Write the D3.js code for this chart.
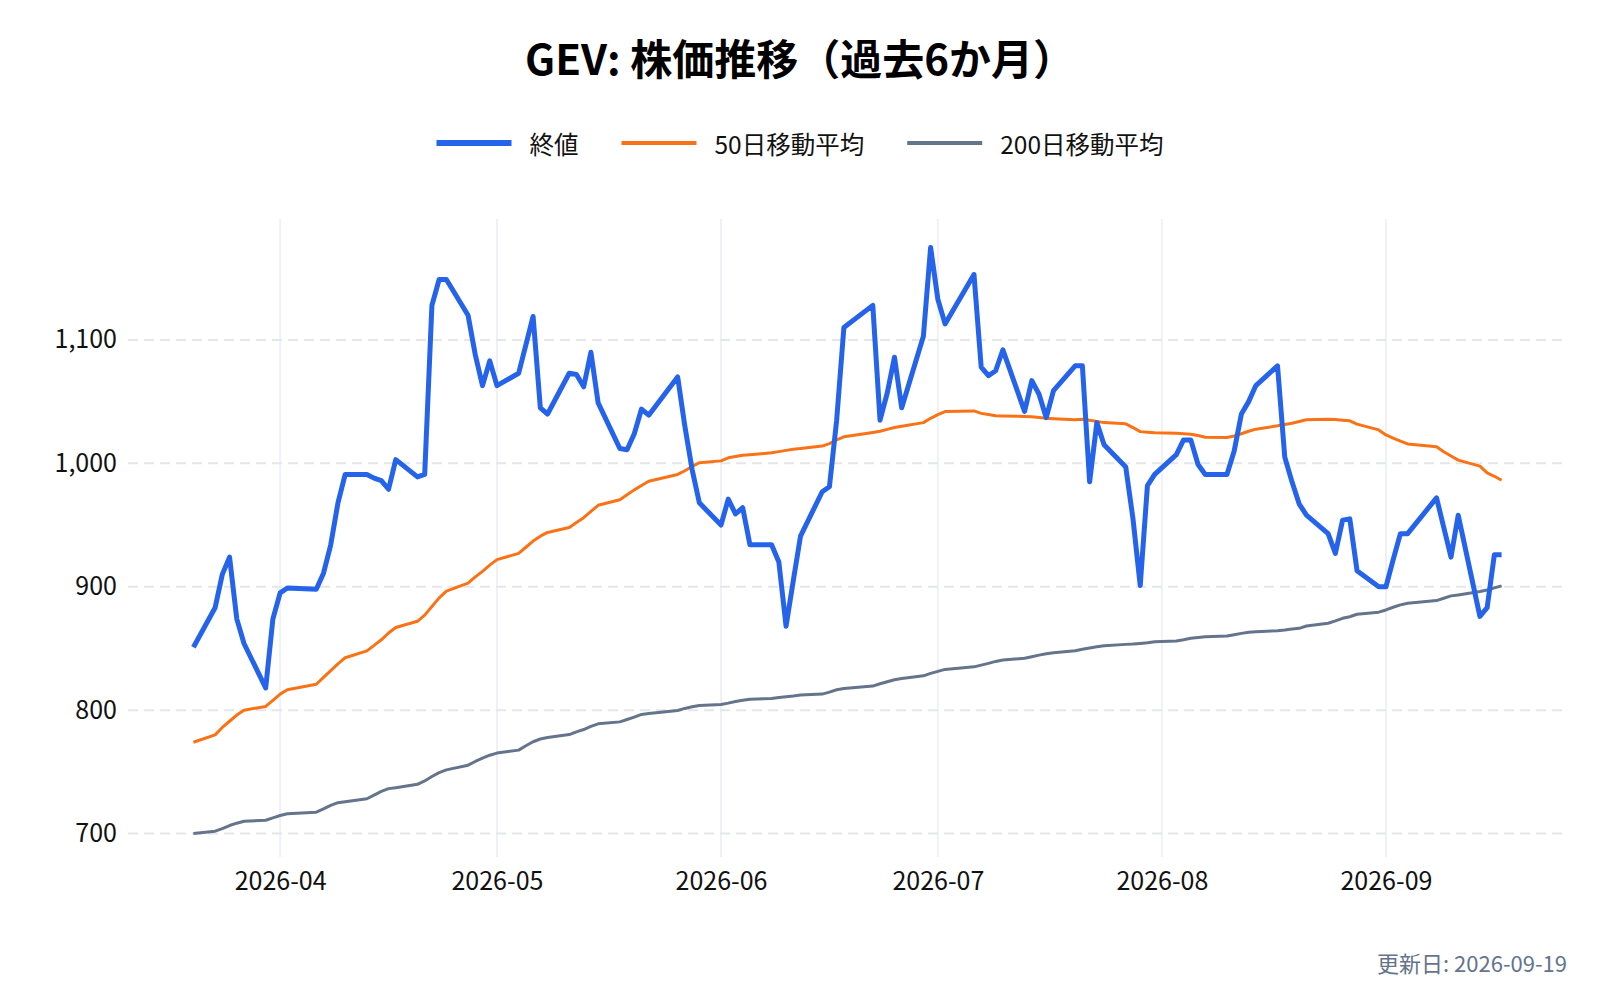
<!DOCTYPE html>
<html lang="ja">
<head>
<meta charset="utf-8">
<title>GEV: 株価推移</title>
<script src="https://cdn.jsdelivr.net/npm/d3@7"></script>
<style>
    body { margin: 0; background: #ffffff; }
    #chart { width: 1600px; height: 1000px; }
    text { font-family: "Noto Sans CJK JP", "Noto Sans", sans-serif; }
</style>
</head>
<body>
<div id="chart"></div>
<script>

// trading days (market holidays are missing)
const dates = [
    "2026-03-20", "2026-03-23", "2026-03-24", "2026-03-25", "2026-03-26", "2026-03-27", "2026-03-30", "2026-03-31",
    "2026-04-01", "2026-04-02", "2026-04-06", "2026-04-07", "2026-04-08", "2026-04-09", "2026-04-10", "2026-04-13",
    "2026-04-14", "2026-04-15", "2026-04-16", "2026-04-17", "2026-04-20", "2026-04-21", "2026-04-22", "2026-04-23",
    "2026-04-24", "2026-04-27", "2026-04-28", "2026-04-29", "2026-04-30",
    "2026-05-01", "2026-05-04", "2026-05-05", "2026-05-06", "2026-05-07", "2026-05-08", "2026-05-11", "2026-05-12",
    "2026-05-13", "2026-05-14", "2026-05-15", "2026-05-18", "2026-05-19", "2026-05-20", "2026-05-21", "2026-05-22",
    "2026-05-26", "2026-05-27", "2026-05-28", "2026-05-29",
    "2026-06-01", "2026-06-02", "2026-06-03", "2026-06-04", "2026-06-05", "2026-06-08", "2026-06-09", "2026-06-10",
    "2026-06-11", "2026-06-12", "2026-06-15", "2026-06-16", "2026-06-17", "2026-06-18", "2026-06-22", "2026-06-23",
    "2026-06-24", "2026-06-25", "2026-06-26", "2026-06-29", "2026-06-30",
    "2026-07-01", "2026-07-02", "2026-07-06", "2026-07-07", "2026-07-08", "2026-07-09", "2026-07-10", "2026-07-13",
    "2026-07-14", "2026-07-15", "2026-07-16", "2026-07-17", "2026-07-20", "2026-07-21", "2026-07-22", "2026-07-23",
    "2026-07-24", "2026-07-27", "2026-07-28", "2026-07-29", "2026-07-30", "2026-07-31",
    "2026-08-03", "2026-08-04", "2026-08-05", "2026-08-06", "2026-08-07", "2026-08-10", "2026-08-11", "2026-08-12",
    "2026-08-13", "2026-08-14", "2026-08-17", "2026-08-18", "2026-08-19", "2026-08-20", "2026-08-21", "2026-08-24",
    "2026-08-25", "2026-08-26", "2026-08-27", "2026-08-28", "2026-08-31",
    "2026-09-01", "2026-09-02", "2026-09-03", "2026-09-04", "2026-09-08", "2026-09-09", "2026-09-10", "2026-09-11",
    "2026-09-14", "2026-09-15", "2026-09-16", "2026-09-17"
];

const closePrices = [
    851, 883, 910, 924, 874, 854, 818, 874,
    895, 899, 898, 911, 934, 968, 991, 991,
    988, 986, 979, 1003, 989, 991, 1128, 1149,
    1149, 1120, 1088, 1063, 1083,
    1063, 1073, 1096, 1119, 1045, 1040, 1073, 1072,
    1062, 1090, 1049, 1012, 1011, 1024, 1044, 1039,
    1070, 1030, 995, 968,
    950, 971, 959, 964, 934, 934, 920, 868,
    905, 941, 977, 981, 1035, 1110, 1128, 1035,
    1057, 1086, 1045, 1103, 1175,
    1133, 1113, 1153, 1078, 1071, 1075, 1092, 1042,
    1067, 1056, 1037, 1059, 1079, 1079, 985, 1033,
    1015, 997, 955, 901, 982, 991,
    1007, 1019, 1019, 999, 991, 991, 1010, 1040,
    1050, 1063, 1079, 1005, 985, 967, 958, 943,
    927, 954, 955, 913, 900,
    900, 922, 943, 943, 972, 948, 924, 958,
    876, 883, 926, 926
];

const ma50 = [
    774, 780, 786, 791, 796, 800, 803, 808,
    813, 816.5, 821, 826.5, 832, 837.5, 842.5, 848,
    852.5, 857, 862.5, 867, 872, 877, 884, 891,
    896.5, 903, 908, 912.5, 917.5,
    922, 927, 932, 937, 941, 944, 948, 952,
    956, 961, 966, 970.5, 974.5, 978.5, 982, 985.5,
    991, 994, 997.5, 1000.5,
    1002, 1004.5, 1005.5, 1006.5, 1007, 1008.5, 1009.5, 1010.5,
    1011.5, 1012, 1014, 1016, 1019, 1021.5, 1025, 1026,
    1027.5, 1029, 1030, 1033, 1036.5,
    1039.5, 1042, 1042.5, 1040.5, 1039.5, 1038.5, 1038.3, 1038,
    1037.7, 1037.2, 1036.6, 1036.2, 1035.3, 1035.7, 1035, 1034,
    1033, 1032, 1029, 1025.7, 1025.2, 1024.8,
    1024.4, 1024, 1023.6, 1022.5, 1021.1, 1021, 1022.2, 1024,
    1026, 1027.7, 1030.4, 1031.5, 1032.5, 1033.9, 1035.3, 1035.8,
    1035.5, 1035, 1034.5, 1031.8, 1027.1,
    1023, 1020.5, 1018, 1015.7, 1013.5, 1009.4, 1006, 1002.6,
    997.7, 992.2, 989.5, 986.3
];

const ma200 = [
    700, 701.9, 704, 706.5, 708.4, 710, 710.8, 712.7,
    714.6, 716, 717.3, 720, 722.8, 725, 725.8, 728.2,
    731.2, 734.2, 736.4, 737.2, 739.9, 742.6, 746.2, 749.4,
    751.6, 755.4, 758.4, 761.1, 763.5,
    765.2, 767.6, 771.1, 774.4, 776.6, 777.8, 780.2, 782.4,
    784.3, 786.8, 788.9, 790.5, 792.4, 794.3, 796.5, 797.3,
    799.7, 801.4, 802.8, 803.8,
    804.6, 805.7, 807, 808.1, 808.9, 809.5, 810.3, 810.8,
    811.4, 812.2, 813, 814.6, 816.5, 817.6, 819.5, 821.4,
    823, 824.6, 825.7, 827.8, 829.8,
    831.4, 833, 835.1, 836.5, 837.9, 839.5, 840.6, 842,
    843.3, 844.6, 845.7, 846.5, 848.1, 849.3, 850.3, 851.4,
    852.2, 853.3, 853.6, 854.1, 854.6, 855.4,
    856, 857, 858.2, 858.9, 859.5, 860.1, 861.1, 862.2,
    863.1, 863.6, 864.4, 864.9, 865.8, 866.3, 868.2, 870.4,
    872.3, 874.4, 875.7, 877.7, 879.4,
    881.2, 883.4, 885.3, 886.6, 888.8, 890.7, 892.6, 893.4,
    896.1, 897.4, 899.1, 900.7
];

const yTicks = [700, 800, 900, 1000, 1100];
const yRange = [681, 1198];
const seriesNames = ["終値", "50日移動平均", "200日移動平均"];
const chartTitle = "GEV: 株価推移（過去6か月）";
const updatedLabel = "更新日: 2026-09-19";


class PriceChart {

    constructor(parentElement) {
        this.parentElement = parentElement;

        // line colors: close, 50d, 200d
        this.colors = ['#2563eb', '#f97316', '#64748b'];
        this.lineWidths = [5, 3, 3];
        this.initVis();
    }

    initVis() {
        let vis = this;

        vis.margin = {top: 219, right: 33, bottom: 143, left: 128};
        vis.totalWidth = 1600;
        vis.totalHeight = 1000;
        vis.width = vis.totalWidth - vis.margin.left - vis.margin.right;
        vis.height = vis.totalHeight - vis.margin.top - vis.margin.bottom;

        vis.svg = d3.select("#" + vis.parentElement).append("svg")
            .attr("width", vis.totalWidth)
            .attr("height", vis.totalHeight);

        vis.svg.append("text")
            .attr("class", "title")
            .attr("x", vis.totalWidth / 2)
            .attr("y", 56)
            .attr("text-anchor", "middle")
            .attr("dominant-baseline", "central")
            .attr("font-size", "42px")
            .attr("font-weight", "bold")
            .attr("fill", "#000")
            .text(chartTitle);

        vis.legendGroup = vis.svg.append("g")
            .attr("class", "legend-group")
            .attr("transform", "translate(0, 143)");

        vis.plot = vis.svg.append("g")
            .attr("transform", `translate(${vis.margin.left}, ${vis.margin.top})`);

        vis.x = d3.scaleUtc().range([0, vis.width]);
        vis.y = d3.scaleLinear().domain(yRange).range([vis.height, 0]);

        vis.gridGroup = vis.plot.append("g").attr("class", "grid");
        vis.xAxisGroup = vis.plot.append("g")
            .attr("class", "x-axis")
            .attr("transform", `translate(0, ${vis.height})`);
        vis.yAxisGroup = vis.plot.append("g").attr("class", "y-axis");
        vis.lineGroup = vis.plot.append("g").attr("class", "lines");

        vis.svg.append("text")
            .attr("class", "updated")
            .attr("x", vis.margin.left + vis.width)
            .attr("y", 962)
            .attr("text-anchor", "end")
            .attr("dominant-baseline", "central")
            .attr("font-size", "22px")
            .attr("fill", "#64748b")
            .text(updatedLabel);

        vis.wrangleData();
    }

    wrangleData() {
        let vis = this;

        let parse = d3.utcParse("%Y-%m-%d");

        vis.displayData = dates.map((d, i) => ({
            date: parse(d),
            close: closePrices[i],
            ma50: ma50[i],
            ma200: ma200[i]
        }));

        // pad the date range by 5% on each side
        let ext = d3.extent(vis.displayData, d => d.date);
        let pad = (ext[1] - ext[0]) * 0.05;
        vis.x.domain([new Date(+ext[0] - pad), new Date(+ext[1] + pad)]);

        vis.series = [
            {name: seriesNames[0], key: "close"},
            {name: seriesNames[1], key: "ma50"},
            {name: seriesNames[2], key: "ma200"}
        ];

        vis.updateVis();
    }

    updateVis() {
        let vis = this;

        let months = vis.x.ticks(d3.utcMonth.every(1));

        // vertical month grid
        vis.gridGroup.selectAll(".vgrid")
            .data(months)
            .join("line")
            .attr("class", "vgrid")
            .attr("x1", d => vis.x(d))
            .attr("x2", d => vis.x(d))
            .attr("y1", 0)
            .attr("y2", vis.height)
            .attr("stroke", "#eef1f6")
            .attr("stroke-width", 2);

        // dashed horizontal grid
        vis.gridGroup.selectAll(".hgrid")
            .data(yTicks)
            .join("line")
            .attr("class", "hgrid")
            .attr("x1", 0)
            .attr("x2", vis.width)
            .attr("y1", d => vis.y(d))
            .attr("y2", d => vis.y(d))
            .attr("stroke", "#e4e6eb")
            .attr("stroke-width", 2)
            .attr("stroke-dasharray", "10,6");

        vis.xAxisGroup.call(
            d3.axisBottom(vis.x)
                .tickValues(months)
                .tickFormat(d3.utcFormat("%Y-%m"))
                .tickSize(0)
                .tickPadding(15)
        );

        vis.yAxisGroup.call(
            d3.axisLeft(vis.y)
                .tickValues(yTicks)
                .tickFormat(d3.format(","))
                .tickSize(0)
                .tickPadding(11)
        );

        vis.svg.selectAll(".domain").remove();
        vis.svg.selectAll(".x-axis text, .y-axis text")
            .attr("font-family", '"Noto Sans CJK JP", "Noto Sans", sans-serif')
            .attr("font-size", "25px")
            .attr("fill", "#111");

        // draw 200d first so the close line sits on top
        let order = [2, 1, 0];
        vis.lineGroup.selectAll(".series")
            .data(order.map(i => vis.series[i]))
            .join("path")
            .attr("class", "series")
            .attr("fill", "none")
            .attr("stroke-linejoin", "round")
            .attr("stroke", d => vis.colors[vis.series.indexOf(d)])
            .attr("stroke-width", d => vis.lineWidths[vis.series.indexOf(d)])
            .attr("d", d => d3.line()
                .x(p => vis.x(p.date))
                .y(p => vis.y(p[d.key]))(vis.displayData));

        vis.updateLegend();
    }

    updateLegend() {
        let vis = this;

        vis.legendGroup.selectAll("*").remove();

        let lineLen = 75;
        let textGap = 18;
        let itemGap = 43;
        let legendWidths = [6, 4, 4];

        let items = vis.legendGroup.selectAll(".legend-item")
            .data(vis.series)
            .join("g")
            .attr("class", "legend-item");

        items.append("line")
            .attr("x1", 0)
            .attr("x2", lineLen)
            .attr("y1", 0)
            .attr("y2", 0)
            .attr("stroke", (d, i) => vis.colors[i])
            .attr("stroke-width", (d, i) => legendWidths[i]);

        items.append("text")
            .attr("x", lineLen + textGap)
            .attr("y", 0)
            .attr("dominant-baseline", "central")
            .attr("font-size", "24.5px")
            .attr("fill", "#111")
            .text(d => d.name);

        // lay the items out in one row, centred on the page
        let widths = [];
        items.each(function () {
            widths.push(lineLen + textGap + d3.select(this).select("text").node().getComputedTextLength());
        });
        let total = d3.sum(widths) + itemGap * (widths.length - 1);
        let xPos = vis.totalWidth / 2 - total / 2;

        items.attr("transform", (d, i) => {
            let t = `translate(${xPos}, 0)`;
            xPos += widths[i] + itemGap;
            return t;
        });
    }
}

new PriceChart("chart");
</script>
</body>
</html>
